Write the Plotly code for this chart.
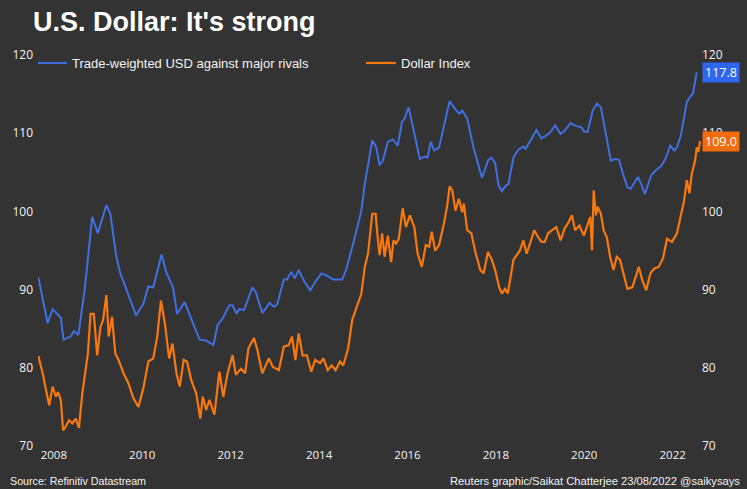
import plotly.graph_objects as go

# ---- data (decimal years, index values) ----
usd_t = [2007.648, 2007.859, 2007.971, 2008.157, 2008.217, 2008.381, 2008.455, 2008.554, 2008.695, 2008.868,
         2008.993, 2009.188, 2009.278, 2009.413, 2009.502, 2009.652, 2009.861, 2010.025, 2010.137, 2010.249,
         2010.437, 2010.549, 2010.697, 2010.787, 2010.960, 2011.146, 2011.296, 2011.446, 2011.610, 2011.706,
         2011.818, 2011.969, 2012.043, 2012.132, 2012.193, 2012.305, 2012.491, 2012.567, 2012.715, 2012.881,
         2012.978, 2013.052, 2013.202, 2013.276, 2013.374, 2013.448, 2013.538, 2013.650, 2013.800, 2013.913,
         2014.061, 2014.173, 2014.323, 2014.525, 2014.621, 2014.809, 2014.957, 2015.034, 2015.108, 2015.204,
         2015.294, 2015.370, 2015.444, 2015.556, 2015.668, 2015.780, 2015.877, 2015.930, 2016.027, 2016.155,
         2016.280, 2016.379, 2016.453, 2016.527, 2016.603, 2016.715, 2016.953, 2017.074, 2017.177, 2017.238,
         2017.350, 2017.500, 2017.686, 2017.821, 2017.895, 2017.984, 2018.061, 2018.135, 2018.224, 2018.285,
         2018.397, 2018.509, 2018.621, 2018.673, 2018.807, 2018.919, 2019.031, 2019.213, 2019.345, 2019.464,
         2019.554, 2019.688, 2019.816, 2019.928, 2020.002, 2020.078, 2020.191, 2020.287, 2020.377, 2020.466,
         2020.601, 2020.691, 2020.787, 2020.886, 2020.975, 2021.049, 2021.139, 2021.213, 2021.289, 2021.370,
         2021.513, 2021.610, 2021.738, 2021.834, 2021.946, 2022.036, 2022.096, 2022.186, 2022.321, 2022.410,
         2022.455, 2022.545]
usd_v = [91.6, 85.7, 87.5, 86.4, 83.6, 84.0, 84.7, 84.2, 89.9, 99.3,
         97.2, 100.8, 99.7, 94.2, 92.1, 89.9, 86.7, 88.2, 90.4, 90.3,
         94.5, 92.1, 90.3, 86.9, 88.4, 85.7, 83.6, 83.5, 82.9, 85.5,
         86.3, 88.0, 88.0, 86.9, 87.5, 87.4, 90.3, 89.7, 87.0, 88.3,
         87.8, 88.1, 91.3, 91.3, 92.3, 91.4, 92.5, 91.2, 89.9, 91.0,
         92.1, 91.8, 91.3, 91.3, 92.7, 96.7, 100.1, 103.5, 106.0, 109.1,
         108.2, 105.9, 106.5, 108.9, 109.2, 108.4, 111.5, 111.8, 113.3, 109.9,
         106.7, 107.0, 106.9, 108.9, 107.8, 108.2, 114.1, 113.1, 112.5, 112.9,
         111.9, 108.0, 104.3, 106.5, 106.9, 106.2, 103.3, 102.6, 103.3, 103.5,
         106.9, 107.9, 108.3, 108.0, 109.3, 110.4, 109.3, 110.0, 111.0, 109.9,
         110.3, 111.3, 110.9, 110.8, 110.2, 110.2, 112.9, 113.8, 113.3, 110.4,
         106.5, 106.7, 106.6, 104.6, 103.1, 102.9, 103.8, 104.4, 103.5, 102.2,
         104.6, 105.2, 105.8, 106.7, 108.4, 107.8, 108.2, 109.7, 114.0, 114.8,
         115.0, 117.8]

dxy_t = [2007.648, 2007.747, 2007.821, 2007.895, 2007.971, 2008.045, 2008.096, 2008.157, 2008.209, 2008.269,
         2008.343, 2008.419, 2008.493, 2008.567, 2008.643, 2008.717, 2008.769, 2008.830, 2008.904, 2008.980,
         2009.054, 2009.114, 2009.188, 2009.240, 2009.316, 2009.390, 2009.464, 2009.576, 2009.688, 2009.800,
         2009.913, 2010.025, 2010.137, 2010.249, 2010.339, 2010.422, 2010.511, 2010.608, 2010.684, 2010.774,
         2010.848, 2010.937, 2011.011, 2011.110, 2011.222, 2011.312, 2011.370, 2011.446, 2011.520, 2011.632,
         2011.744, 2011.834, 2011.930, 2012.043, 2012.119, 2012.231, 2012.327, 2012.401, 2012.529, 2012.603,
         2012.715, 2012.865, 2012.955, 2013.090, 2013.202, 2013.314, 2013.388, 2013.464, 2013.538, 2013.628,
         2013.724, 2013.823, 2013.913, 2014.025, 2014.099, 2014.195, 2014.285, 2014.374, 2014.473, 2014.547,
         2014.659, 2014.749, 2014.845, 2014.957, 2015.034, 2015.108, 2015.204, 2015.280, 2015.332, 2015.370,
         2015.428, 2015.482, 2015.556, 2015.630, 2015.684, 2015.742, 2015.803, 2015.892, 2015.966, 2016.056,
         2016.155, 2016.229, 2016.325, 2016.415, 2016.491, 2016.549, 2016.626, 2016.715, 2016.827, 2016.901,
         2016.953, 2017.013, 2017.087, 2017.164, 2017.238, 2017.276, 2017.350, 2017.446, 2017.536, 2017.648,
         2017.724, 2017.821, 2017.910, 2017.984, 2018.074, 2018.135, 2018.208, 2018.269, 2018.321, 2018.397,
         2018.471, 2018.545, 2018.621, 2018.695, 2018.785, 2018.868, 2018.957, 2019.031, 2019.105, 2019.182,
         2019.271, 2019.368, 2019.464, 2019.554, 2019.643, 2019.720, 2019.794, 2019.890, 2019.989, 2020.078,
         2020.137, 2020.175, 2020.213, 2020.265, 2020.303, 2020.377, 2020.437, 2020.511, 2020.585, 2020.661,
         2020.735, 2020.809, 2020.886, 2020.975, 2021.087, 2021.161, 2021.235, 2021.312, 2021.401, 2021.498,
         2021.587, 2021.684, 2021.782, 2021.872, 2021.984, 2022.096, 2022.186, 2022.260, 2022.321, 2022.379,
         2022.433, 2022.469, 2022.507, 2022.545, 2022.582, 2022.619]
dxy_v = [81.5, 79.3, 77.2, 75.2, 77.6, 76.3, 76.9, 75.9, 72.0, 72.5,
         73.3, 72.9, 73.5, 72.3, 76.7, 79.7, 81.8, 86.9, 86.9, 81.6,
         85.2, 86.1, 89.3, 84.0, 86.5, 81.8, 81.0, 79.3, 78.0, 76.1,
         75.0, 77.4, 80.8, 81.2, 84.0, 88.6, 85.7, 81.2, 83.1, 79.3,
         77.6, 81.0, 80.8, 78.4, 76.7, 73.5, 76.3, 74.6, 75.9, 74.0,
         79.5, 76.3, 79.3, 81.6, 79.1, 79.9, 79.3, 82.5, 83.8, 82.3,
         79.3, 81.2, 80.1, 79.7, 82.7, 82.9, 84.0, 81.0, 84.4, 81.6,
         81.6, 79.5, 81.0, 80.6, 81.2, 79.7, 80.3, 79.7, 80.8, 80.3,
         82.5, 86.1, 87.8, 89.5, 92.9, 94.6, 99.7, 99.7, 96.3, 94.4,
         97.2, 94.2, 96.9, 93.5, 96.3, 95.9, 96.5, 100.4, 98.0, 99.5,
         98.0, 94.6, 92.9, 95.7, 95.5, 97.4, 95.0, 95.7, 98.5, 100.8,
         103.2, 102.7, 100.1, 101.6, 99.9, 101.0, 97.6, 97.2, 94.8, 92.5,
         92.1, 94.8, 93.8, 92.5, 90.3, 89.5, 90.1, 89.5, 91.2, 93.8,
         94.4, 95.0, 96.3, 94.6, 96.1, 97.6, 96.7, 96.1, 96.1, 97.2,
         97.6, 98.0, 96.3, 97.8, 98.6, 99.5, 97.6, 98.2, 96.9, 98.2,
         99.3, 95.0, 102.7, 99.5, 100.6, 99.7, 97.6, 96.7, 94.2, 92.5,
         94.2, 93.8, 92.1, 90.1, 90.3, 91.6, 92.9, 91.2, 89.9, 92.1,
         92.7, 92.9, 94.0, 96.5, 96.1, 97.2, 99.5, 101.4, 104.0, 102.3,
         104.8, 105.7, 106.5, 108.2, 107.6, 109.0]

year_ticks = [2008, 2010, 2012, 2014, 2016, 2018, 2020, 2022]
value_ticks = [70, 80, 90, 100, 110, 120]

series_names = ["Trade-weighted USD against major rivals", "Dollar Index"]

BG = "#333333"
BLUE = "#3f6fe0"
ORANGE = "#f7780f"
BLUE_BOX = "#2f66f0"
ORANGE_BOX = "#f26b0c"
TXT = "#f2f2f2"

fig = go.Figure()
fig.add_trace(go.Scatter(x=usd_t, y=usd_v, mode="lines", name=series_names[0],
                         line=dict(color=BLUE, width=2)))
fig.add_trace(go.Scatter(x=dxy_t, y=dxy_v, mode="lines", name=series_names[1],
                         line=dict(color=ORANGE, width=2.2), yaxis="y2"))

fig.update_layout(
    width=747, height=489,
    paper_bgcolor=BG, plot_bgcolor=BG,
    margin=dict(l=32, r=46, t=55, b=43),
    title=dict(text="U.S. Dollar: It's strong", x=33/747, xanchor="left",
               y=1 - 22/489, yanchor="middle",
               font=dict(family="Liberation Sans, Arial", size=27, color="#ffffff", weight="bold")),
    showlegend=True,
    legend=dict(orientation="h", x=0, xanchor="left", y=0.9795, yanchor="middle", indentation=-6,
                bgcolor="rgba(0,0,0,0)", font=dict(family="Liberation Sans, Arial", size=13, color=TXT),
                entrywidth=290, entrywidthmode="pixels", itemwidth=30),
    xaxis=dict(range=[2007.641, 2022.641], tickvals=year_ticks, ticktext=[str(y) for y in year_ticks],
               showgrid=False, zeroline=False, showline=False, ticks="",
               tickfont=dict(family="Open Sans", size=11.5, color=TXT)),
    yaxis=dict(range=[70, 120], tickvals=value_ticks, showgrid=False, zeroline=False,
               showline=False, ticks="", ticklabelstandoff=4,
               tickfont=dict(family="Open Sans", size=12, color=TXT)),
    yaxis2=dict(range=[70, 120], tickvals=value_ticks, overlaying="y", side="right",
                showgrid=False, zeroline=False, showline=False, ticks="",
                tickfont=dict(family="Open Sans", size=12, color=TXT)),
)

# end-value labels
fig.add_annotation(x=1, xref="paper", xanchor="left", xshift=1, y=usd_v[-1], yref="y",
                   text=f"{usd_v[-1]:.1f}", showarrow=False, bgcolor=BLUE_BOX,
                   font=dict(family="Open Sans", size=12.5, color="#ffffff"), borderpad=1, width=34)
fig.add_annotation(x=1, xref="paper", xanchor="left", xshift=1, y=dxy_v[-1], yref="y",
                   text=f"{dxy_v[-1]:.1f}", showarrow=False, bgcolor=ORANGE_BOX,
                   font=dict(family="Open Sans", size=12.5, color="#ffffff"), borderpad=1, width=34)

# footer
fig.add_annotation(x=2/747, xref="paper", xanchor="left", y=-0.0895, yref="paper", yanchor="middle",
                   text="Source: Refinitiv Datastream", showarrow=False, xshift=-32,
                   font=dict(family="Liberation Sans, Arial", size=10.7, color=TXT))
fig.add_annotation(x=1, xref="paper", xanchor="right", y=-0.0895, yref="paper", yanchor="middle",
                   text="Reuters graphic/Saikat Chatterjee 23/08/2022 @saikysays", showarrow=False, xshift=41,
                   font=dict(family="Liberation Sans, Arial", size=11.2, color=TXT))

fig.write_html("out.html", config={"displayModeBar": False},
               post_script="document.body.style.margin='0px';document.body.style.background='#333333';")
